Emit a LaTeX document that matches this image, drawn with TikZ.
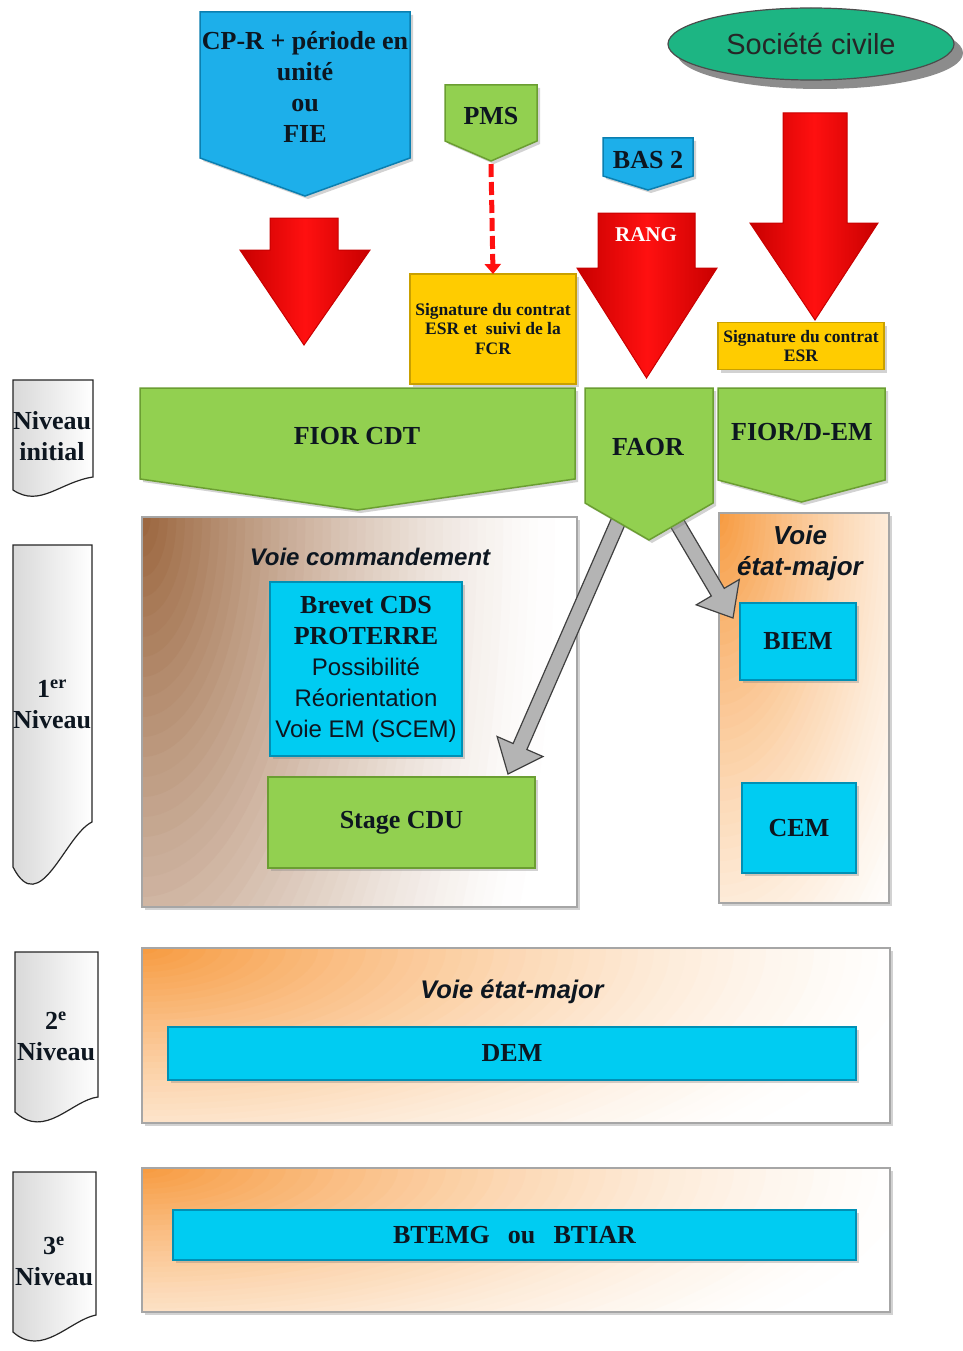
\documentclass[tikz,border=0pt]{standalone}
\usepackage{fontspec}
\setmainfont{Liberation Serif}
\setsansfont{Liberation Sans}
\usetikzlibrary{calc,arrows.meta,shapes.geometric,shadows}
\definecolor{cpblue}{HTML}{1DAFEA}
\definecolor{cpblued}{HTML}{0B7FB0}
\definecolor{cyb}{HTML}{00CCF2}
\definecolor{cybd}{HTML}{0090B5}
\definecolor{grn}{HTML}{92D050}
\definecolor{grnd}{HTML}{6B9E32}
\definecolor{yel}{HTML}{FFCC00}
\definecolor{yeld}{HTML}{C9A000}
\definecolor{rd}{HTML}{FF1010}
\definecolor{rdd}{HTML}{C80000}
\definecolor{ellg}{HTML}{1DB583}
\definecolor{orng}{HTML}{F79A3E}
\definecolor{brwn}{HTML}{9A643C}
\definecolor{gry}{HTML}{B4B4B4}
\definecolor{txt}{HTML}{0D1620}
\newcommand\pentdown[6]{\path[#6] (#1,#3) -- (#2,#3) -- (#2,#4) -- ({(#1+#2)/2},#5) -- (#1,#4) -- cycle;}
\newcommand\redarrow[7]{\path[redar] (#1,#3) -- (#2,#3) -- (#2,#4) -- (#6,#4) -- ({(#1+#2)/2},#7) -- (#5,#4) -- (#1,#4) -- cycle;}
\newcommand\blockarrow[2]{%
  \coordinate (bh) at ($(#2)!30pt!(#1)$);
  \path[grayar] ($(#1)!7.5pt!90:(#2)$) -- ($(bh)!7.5pt!-90:(#1)$) -- ($(bh)!25pt!-90:(#1)$) -- (#2)
    -- ($(bh)!25pt!90:(#1)$) -- ($(bh)!7.5pt!90:(#1)$) -- ($(#1)!7.5pt!-90:(#2)$) -- cycle;}
\newcommand\cornerfill[3]{%
  \foreach \k in {0,...,49}{%
    \pgfmathsetmacro\fr{(\k+0.5)/50}%
    \pgfmathtruncatemacro\pc{100*\fr*sqrt(\fr)}%
    \pgfmathsetmacro\rx{#2/50*(50-\k)}%
    \pgfmathsetmacro\ry{#3/50*(50-\k)}%
    \fill[#1!\pc!white] (path picture bounding box.north west) ellipse[x radius=\rx pt, y radius=\ry pt];}}
\begin{document}
\begin{tikzpicture}[x=1pt,y=-1pt,
  every node/.style={inner sep=0pt, outer sep=0pt, align=center, text=txt},
  btx/.style={font=\fontsize{26}{31}\selectfont\bfseries},
  stx/.style={font=\fontsize{17.5}{19.5}\selectfont\bfseries},
  itx/.style={font=\fontsize{25}{31}\selectfont\sffamily\bfseries\itshape},
  shd/.style={drop shadow={shadow xshift=3pt, shadow yshift=-3pt, opacity=0.35}},
  bluepent/.style={fill=cpblue, draw=cpblued, line width=1.5pt, shd},
  greenpent/.style={fill=grn, draw=grnd, line width=1.5pt, shd},
  yelbox/.style={fill=yel, draw=yeld, line width=1.5pt, shd},
  cybox/.style={fill=cyb, draw=cybd, line width=1.5pt, shd},
  grbox/.style={fill=grn, draw=grnd, line width=1.5pt, shd},
  redar/.style={left color=rdd, right color=rdd, middle color=rd, draw=rdd, line width=1pt},
  grayar/.style={fill=gry, draw=black!75, line width=1.2pt},
  lvl/.style={left color=black!15, right color=white, draw=black!85, line width=1.2pt},
  cornerbox/.style n args={3}{fill=white, draw=black!35, line width=1.5pt, shd,
    path picture={\cornerfill{#1}{#2}{#3}}}
]
\useasboundingbox[fill=white] (0,0) rectangle (962,1351);

% level labels
\path[lvl] (13,380) -- (93,380) -- (93,477) .. controls (60,482) and (40,508) .. (13,490) -- cycle;
\path[lvl] (13,545) -- (92,545) -- (92,822) .. controls (65,835) and (40,920) .. (13,867) -- cycle;
\path[lvl] (15,952) -- (98,952) -- (98,1097) .. controls (72,1100) and (45,1140) .. (15,1112) -- cycle;
\path[lvl] (13,1172) -- (96,1172) -- (96,1315) .. controls (70,1320) and (42,1358) .. (13,1332) -- cycle;
\node[btx] (l0) at (52,436) {Niveau\\initial};
\node[btx] (l1) at (52,704) {1\textsuperscript{er}\\Niveau};
\node[btx] (l2) at (56,1036) {2\textsuperscript{e}\\Niveau};
\node[btx] (l3) at (54,1261) {3\textsuperscript{e}\\Niveau};

% societe civile
\fill[black!45] (820,53) ellipse[x radius=143, y radius=36];
\node[ellipse, fill=ellg, draw=black!70, line width=1.2pt, minimum width=286pt, minimum height=72pt,
  font=\fontsize{29}{34}\selectfont\sffamily, text=black!85] (soc) at (811,44) {Société civile};

% CP-R
\pentdown{200}{410}{12}{158}{196}{bluepent}
\node[btx] (cpr) at (305,87) {CP-R + période en\\unité\\ou\\FIE};

% red arrows
\redarrow{270}{338}{218}{250}{240}{370}{345}
\redarrow{598}{695}{213}{268}{577}{717}{378}
\redarrow{783}{847}{113}{223}{750}{878}{320}
\node[font=\fontsize{21}{25}\selectfont\bfseries, text=white] (rang) at (646,235) {RANG};

% PMS
\pentdown{445}{537}{85}{141}{161}{greenpent}
\node[btx] (pms) at (491,116) {PMS};
\coordinate (pmstip) at (491,164);

% BAS 2
\pentdown{603}{693}{138}{176}{190}{bluepent}
\node[btx] (bas) at (648,160) {BAS 2};

% signature boxes
\node[yelbox, stx, minimum width=166pt, minimum height=110pt] (sign1) at (493,329)
  {Signature du contrat\\ESR et\ \ suivi de la\\FCR};
\node[yelbox, stx, minimum width=166pt, minimum height=47pt] (sign2) at (801,346)
  {Signature du contrat\\ESR};
\draw[rd, line width=5pt, dash pattern=on 13pt off 5pt, -{Triangle[width=16pt,length=10pt]}] (pmstip) -- (sign1.north);

% initial level
\pentdown{140}{575}{388}{479}{510}{greenpent}
\node[btx] (fiorcdt) at (357,436) {FIOR CDT};
\pentdown{718}{885}{388}{480}{502}{greenpent}
\node[btx] (fiordem) at (802,432) {FIOR/D-EM};

% 1er niveau
\node[cornerbox={brwn}{430}{1000}, minimum width=435pt, minimum height=390pt] (vcbox) at (359.5,712) {};
\node[itx, font=\fontsize{24}{31}\selectfont\sffamily\bfseries\itshape] (vctitle) at (370,557) {Voie commandement};
\node[cybox, minimum width=192pt, minimum height=174pt, font=\fontsize{24}{31}\selectfont] (brevet) at (366,669)
  {{\bfseries\fontsize{26}{31}\selectfont Brevet CDS}\\{\bfseries\fontsize{26}{31}\selectfont PROTERRE}\\{\sffamily Possibilité}\\{\sffamily Réorientation}\\{\sffamily Voie EM (SCEM)}};
\node[grbox, btx, minimum width=267pt, minimum height=91pt] (stage) at (401.5,822.5) {Stage CDU};

\node[cornerbox={orng}{260}{600}, minimum width=170pt, minimum height=390pt] (vembox) at (804,708) {};
\node[itx, font=\fontsize{26}{31}\selectfont\sffamily\bfseries\itshape] (vemtitle) at (800,553.5) {Voie\\état-major};
\node[cybox, btx, minimum width=116pt, minimum height=77pt] (biem) at (798,641.5) {BIEM};
\node[cybox, btx, minimum width=114pt, minimum height=90pt] (cem) at (799,828) {CEM};

% gray arrows from FAOR
\coordinate (ga1s) at (625,506);
\coordinate (ga1e) at (508,774);
\coordinate (ga2s) at (667,506);
\coordinate (ga2e) at (733,618);
\blockarrow{ga1s}{ga1e}
\blockarrow{ga2s}{ga2e}

% FAOR
\pentdown{585}{713}{388}{503}{540}{greenpent}
\node[btx] (faor) at (648,447) {FAOR};

% 2e niveau
\node[cornerbox={orng}{800}{300}, minimum width=748pt, minimum height=175pt] (box2) at (516,1035.5) {};
\node[itx, font=\fontsize{25.5}{31}\selectfont\sffamily\bfseries\itshape] (vem2) at (512,992) {Voie état-major};
\node[cybox, btx, minimum width=688pt, minimum height=53pt] (dem) at (512,1053.5) {DEM};

% 3e niveau
\node[cornerbox={orng}{800}{260}, minimum width=748pt, minimum height=144pt] (box3) at (516,1240) {};
\node[cybox, btx, minimum width=683pt, minimum height=50pt] (btemg) at (514.5,1235) {BTEMG\hspace{0.45em} ou\hspace{0.45em} BTIAR};
\end{tikzpicture}
\end{document}
